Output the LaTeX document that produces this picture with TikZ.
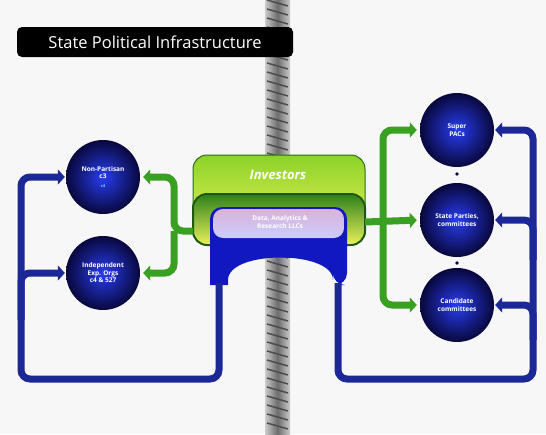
\documentclass[tikz,border=0pt]{standalone}
\usepackage{fontspec}
\setmainfont{Open Sans}
\usetikzlibrary{arrows.meta}
\definecolor{navy}{RGB}{28,40,150}
\definecolor{leaf}{RGB}{58,160,34}
\definecolor{lime}{RGB}{140,210,40}
\definecolor{pale}{RGB}{235,242,90}
\definecolor{orb}{RGB}{40,60,240}
\definecolor{orbedge}{RGB}{8,8,60}
\tikzset{
    orgnode/.style={circle,minimum size=74pt,inner sep=0pt,align=center,
        inner color=orb,outer color=orbedge,text=white,
        font=\fontsize{6.5}{7.5}\selectfont\bfseries},
    bluelink/.style={draw=navy,line width=7pt,rounded corners=9pt,
        -{Triangle[length=7pt,width=15pt]},shorten >=1pt},
    greenlink/.style={draw=leaf,line width=7pt,rounded corners=9pt,
        -{Triangle[length=7pt,width=15pt]},shorten >=3pt},
}
\begin{document}
\begin{tikzpicture}[x=1pt,y=-1pt]
    \fill[gray!6] (0,0) rectangle (546,434);
    \useasboundingbox (0,0) rectangle (546,434);
    % pole behind the diagram
    \shade[left color=gray!40,right color=gray!40,middle color=gray!85!black]
        (265,0) rectangle (290,434);
    \foreach \y in {0,9,...,430}
        \draw[gray!60!black,line width=1.5pt] (267,\y) -- (288,\y+6);
    % title
    \node[fill=black,rounded corners=5pt,text=white,font=\fontsize{16.5}{18}\selectfont,
        minimum width=276pt,minimum height=30pt,inner sep=0pt] (title) at (155,42)
        {State Political Infrastructure};
    % organisations
    \node[orgnode] (np) at (103,177) {Non-Partisan\\c3\\[1pt]{\color{cyan!50}\fontsize{4}{5}\selectfont c4}};
    \node[orgnode] (ie) at (103,273) {Independent\\Exp. Orgs\\c4 \& 527};
    \node[orgnode] (sp) at (457,130) {Super\\PACs};
    \node[orgnode] (pc) at (457,220) {State Parties,\\committees};
    \node[orgnode] (cc) at (457,305) {Candidate\\committees};
    \node[circle,fill=orbedge,inner sep=1.3pt] (d1) at (457,174) {};
    \node[circle,fill=orbedge,inner sep=1.3pt] (d2) at (457,263) {};
    % central block
    \draw[leaf!70!black,line width=1pt,top color=lime,bottom color=pale,rounded corners=14pt]
        (193,235) -- (193,155) -- (365,155) -- (365,235);
    \draw[leaf!55!black,line width=2pt,top color=leaf!80!black,bottom color=pale,rounded corners=14pt]
        (193,245) -- (193,194) -- (365,194) -- (365,245) -- cycle;
    \fill[navy!60!blue,rounded corners=12pt]
        (210,285) -- (210,207) -- (347,207) -- (347,285) -- (333,285)
        [sharp corners] -- (333,280) .. controls (333,250) and (228,250) .. (228,280)
        -- (228,285) -- cycle;
    \shade[top color=violet!30,bottom color=white!80!blue,rounded corners=10pt]
        (213,209) rectangle (344,238);
    \node[text=white,font=\fontsize{13}{15}\selectfont\bfseries\itshape] (inv) at (278,175) {Investors};
    \node[text=white,align=center,font=\fontsize{6.5}{8}\selectfont\bfseries] (data) at (280,222)
        {Data, Analytics \&\\Research LLCs};
    \coordinate (gl) at (174,231);
    \coordinate (gr) at (383,222);
    \coordinate (bl) at (219,379);
    \coordinate (br) at (338,379);
    % green links
    \draw[greenlink] (193,231) -- (gl) |- (np.east);
    \draw[greenlink] (gl) |- (ie.east);
    \draw[greenlink] (365,222) -- (pc.west);
    \draw[greenlink] (gr) |- (sp.west);
    \draw[greenlink] (gr) |- (cc.west);
    % blue links
    \draw[bluelink] (219,283) -- (bl) -| (21,230) |- (np.west);
    \draw[bluelink] (21,320) |- (ie.west);
    \draw[bluelink] (338,283) -- (br) -| (533,240) |- (sp.east);
    \draw[bluelink] (533,260) |- (pc.east);
    \draw[bluelink] (533,340) |- (cc.east);
\end{tikzpicture}
\end{document}
